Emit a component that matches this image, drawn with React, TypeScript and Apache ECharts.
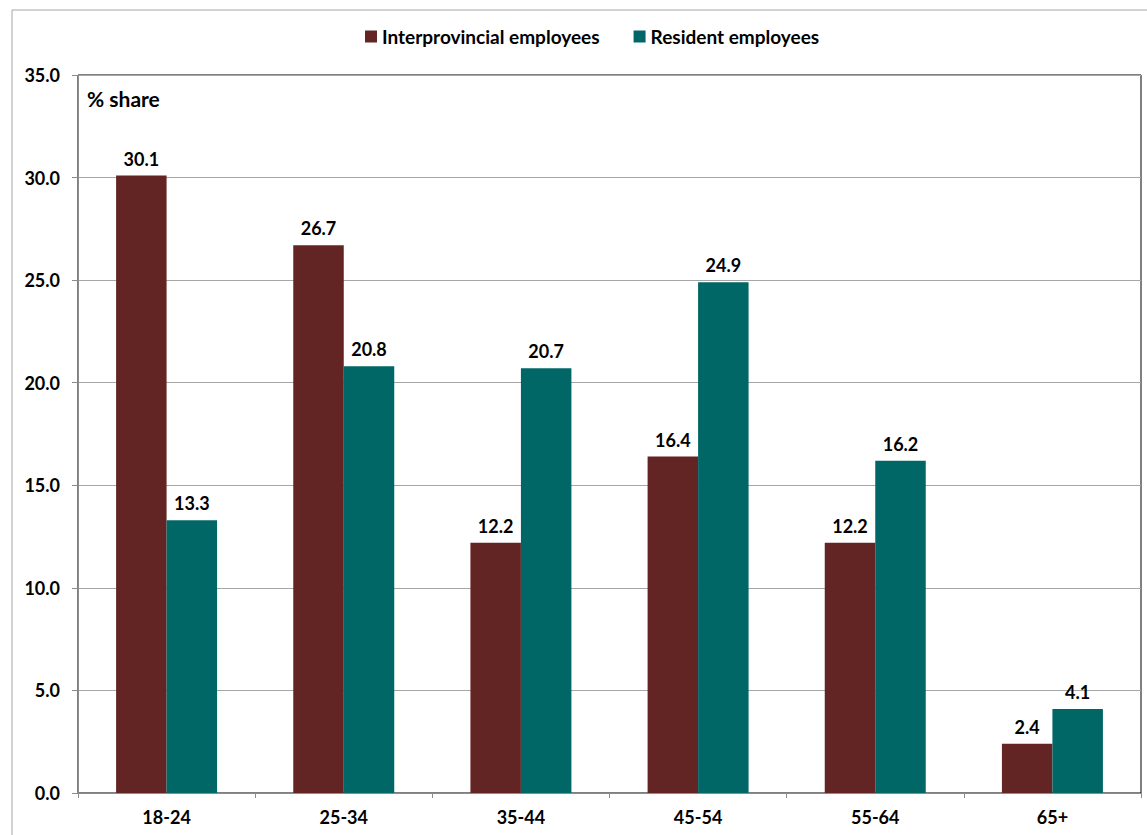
import React, { useEffect, useRef } from "react";
import * as echarts from "echarts";

const categories = ["18-24", "25-34", "35-44", "45-54", "55-64", "65+"];
const interprovincial = [30.1, 26.7, 12.2, 16.4, 12.2, 2.4];
const resident = [13.3, 20.8, 20.7, 24.9, 16.2, 4.1];
const seriesNames = ["Interprovincial employees", "Resident employees"];
const yTitle = "% share";

const FONT = "Lato, 'Liberation Sans', sans-serif";

export default function App() {
  const ref = useRef<HTMLDivElement>(null);
  useEffect(() => {
    const chart = echarts.init(ref.current!, null, { renderer: "svg" });
    const labelStyle = {
      show: true,
      position: "top",
      distance: 8,
      fontFamily: FONT,
      fontWeight: "bold",
      fontSize: 18,
      color: "#000",
      formatter: (p: any) => Number(p.value).toFixed(1),
    };
    chart.setOption({
      animation: false,
      backgroundColor: "#fff",
      textStyle: { fontFamily: FONT },
      color: ["#632523", "#006666"],
      legend: {
        top: 22,
        left: 360,
        itemWidth: 12,
        itemHeight: 12,
        itemGap: 34,
        icon: "rect",
        textStyle: { fontFamily: FONT, fontWeight: "bold", fontSize: 19, color: "#000" },
        data: seriesNames,
      },
      grid: {
        left: 78,
        top: 75,
        right: 6,
        bottom: 42,
        show: true,
        borderColor: "#000",
        borderWidth: 1,
        containLabel: false,
      },
      graphic: [
        {
          type: "rect",
          shape: { x: 12, y: 10, width: 1160, height: 860 },
          style: { fill: "none", stroke: "#a6a6a6", lineWidth: 1 },
          silent: true,
        },
        {
          type: "text",
          x: 87,
          y: 88,
          style: {
            text: yTitle,
            fontFamily: FONT,
            fontWeight: "bold",
            fontSize: 21,
            fill: "#000",
          },
        },
      ],
      xAxis: {
        type: "category",
        data: categories,
        axisLine: { lineStyle: { color: "#8c8c8c" } },
        axisTick: { show: true, length: 5, lineStyle: { color: "#8c8c8c" } },
        axisLabel: {
          margin: 15,
          fontFamily: FONT,
          fontWeight: "bold",
          fontSize: 18,
          color: "#000",
        },
      },
      yAxis: {
        type: "value",
        min: 0,
        max: 35,
        interval: 5,
        axisLine: { show: true, lineStyle: { color: "#8c8c8c" } },
        axisTick: { show: true, length: 6, lineStyle: { color: "#8c8c8c" } },
        splitLine: { show: true, lineStyle: { color: "#a6a6a6" } },
        axisLabel: {
          margin: 18,
          fontFamily: FONT,
          fontWeight: "bold",
          fontSize: 18,
          color: "#000",
          formatter: (v: number) => v.toFixed(1),
        },
      },
      series: [
        {
          name: seriesNames[0],
          type: "bar",
          data: interprovincial,
          barGap: "0%",
          barCategoryGap: "43%",
          label: labelStyle,
        },
        {
          name: seriesNames[1],
          type: "bar",
          data: resident,
          barGap: "0%",
          barCategoryGap: "43%",
          label: labelStyle,
        },
      ],
    });
    return () => chart.dispose();
  }, []);
  return (
    <div
      ref={ref}
      style={{ position: "absolute", left: 0, top: 0, width: 1147, height: 835 }}
    />
  );
}
